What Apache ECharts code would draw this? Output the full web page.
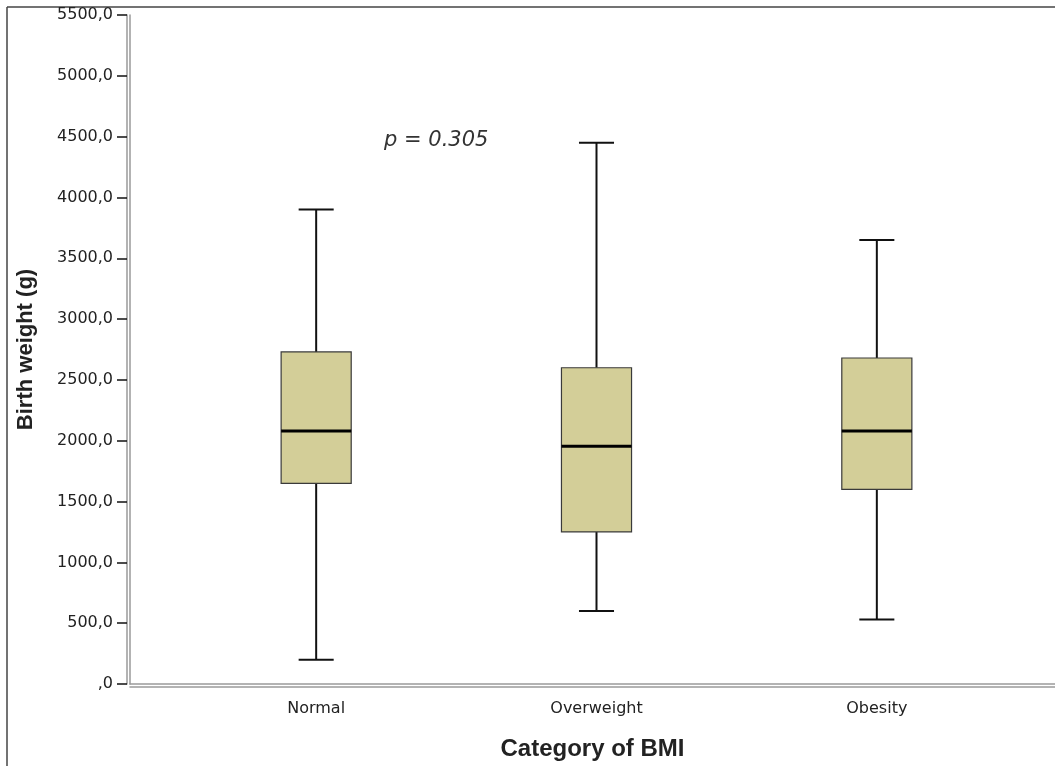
<!DOCTYPE html>
<html>
<head>
<meta charset="utf-8">
<title>Birth weight by BMI category</title>
<script src="https://cdn.jsdelivr.net/npm/echarts@6/dist/echarts.min.js"></script>
<style>
  html, body { margin: 0; padding: 0; background: #fff; }
  #main { width: 1055px; height: 766px; }
</style>
</head>
<body>
<div id="main"></div>
<script>
"use strict";

// data
const categories = ['Normal', 'Overweight', 'Obesity'];
// [min, Q1, median, Q3, max]
const boxNormal = [200, 1650, 2080, 2730, 3900];
const boxOverweight = [600, 1250, 1955, 2600, 4450];
const boxObesity = [530, 1600, 2080, 2680, 3650];
const yTicks = { min: 0, max: 5500, interval: 500 };
const pText = 'p = 0.305';

const boxes = [boxNormal, boxOverweight, boxObesity];
const seriesData = boxes.map(function (b, i) { return [i].concat(b); });

const chart = echarts.init(document.getElementById('main'), null, { renderer: 'canvas' });

const axisGrey = { color: '#9a9a9a', width: 1.5 };
const tickFont = { color: '#222', fontSize: 16, fontFamily: 'DejaVu Sans' };

function renderBox(params, api) {
    const x = api.value(0);
    const lo = api.coord([x, api.value(1)]);
    const q1 = api.coord([x, api.value(2)]);
    const med = api.coord([x, api.value(3)]);
    const q3 = api.coord([x, api.value(4)]);
    const hi = api.coord([x, api.value(5)]);
    const band = api.size([1, 0])[0];
    const bw = band * 0.25;
    const cw = bw / 2;
    const cx = q1[0];
    const stem = { stroke: '#111', lineWidth: 2 };
    return {
        type: 'group',
        children: [
            { type: 'line', shape: { x1: cx, y1: hi[1], x2: cx, y2: q3[1] }, style: stem },
            { type: 'line', shape: { x1: cx, y1: q1[1], x2: cx, y2: lo[1] }, style: stem },
            { type: 'line', shape: { x1: cx - cw / 2, y1: hi[1], x2: cx + cw / 2, y2: hi[1] }, style: stem },
            { type: 'line', shape: { x1: cx - cw / 2, y1: lo[1], x2: cx + cw / 2, y2: lo[1] }, style: stem },
            {
                type: 'rect',
                shape: { x: cx - bw / 2, y: q3[1], width: bw, height: q1[1] - q3[1] },
                style: { fill: '#d3ce98', stroke: '#3a3a3a', lineWidth: 1.2 }
            },
            { type: 'line', shape: { x1: cx - bw / 2, y1: med[1], x2: cx + bw / 2, y2: med[1] }, style: { stroke: '#000', lineWidth: 3 } }
        ]
    };
}

const option = {
    animation: false,
    backgroundColor: '#fff',
    grid: [
        { left: 130, right: 0, top: 15, bottom: 82, outerBoundsMode: 'none' },
        { left: 176, right: 38, top: 15, bottom: 82, outerBoundsMode: 'none' }
    ],
    xAxis: [
        {
            gridIndex: 0, type: 'value', position: 'bottom', min: 0, max: 1,
            axisLine: { show: true, onZero: false, lineStyle: axisGrey },
            axisTick: { show: false }, axisLabel: { show: false }, splitLine: { show: false },
            name: 'Category of BMI', nameLocation: 'middle', nameGap: 53, nameMoveOverlap: false,
            nameTextStyle: { fontSize: 24, fontWeight: 'bold', color: '#222', fontFamily: 'Liberation Sans' }
        },
        {
            gridIndex: 0, type: 'value', position: 'bottom', min: 0, max: 1, offset: 3,
            axisLine: { show: true, onZero: false, lineStyle: axisGrey },
            axisTick: { show: false }, axisLabel: { show: false }, splitLine: { show: false }
        },
        {
            gridIndex: 1, type: 'category', position: 'bottom', data: categories, boundaryGap: true,
            axisLine: { show: false }, axisTick: { show: false },
            axisLabel: Object.assign({ margin: 17 }, tickFont)
        }
    ],
    yAxis: [
        {
            gridIndex: 0, type: 'value', position: 'left', min: yTicks.min, max: yTicks.max, interval: yTicks.interval,
            axisLine: { show: true, onZero: false, lineStyle: axisGrey },
            axisTick: { show: false }, axisLabel: { show: false }, splitLine: { show: false }
        },
        {
            gridIndex: 0, type: 'value', position: 'left', min: yTicks.min, max: yTicks.max, interval: yTicks.interval, offset: 3,
            axisLine: { show: true, onZero: false, lineStyle: axisGrey },
            axisTick: { show: true, length: 10, lineStyle: { color: '#111', width: 1.5 } },
            axisLabel: Object.assign({
                margin: 14,
                formatter: function (v) { return v === 0 ? ',0' : v + ',0'; }
            }, tickFont),
            splitLine: { show: false },
            name: 'Birth weight (g)', nameLocation: 'middle', nameGap: 90, nameMoveOverlap: false,
            nameTextStyle: { fontSize: 22, fontWeight: 'bold', color: '#222', fontFamily: 'Liberation Sans' }
        },
        {
            gridIndex: 1, type: 'value', position: 'left', min: yTicks.min, max: yTicks.max, interval: yTicks.interval,
            show: false
        }
    ],
    graphic: [
        { type: 'line', shape: { x1: 7, y1: 7, x2: 1055, y2: 7 }, style: { stroke: '#444', lineWidth: 1.5 } },
        { type: 'line', shape: { x1: 7, y1: 7, x2: 7, y2: 766 }, style: { stroke: '#444', lineWidth: 1.5 } },
        {
            type: 'text', left: 384, top: 130,
            style: { text: pText, fontSize: 21, fontStyle: 'italic', fontFamily: 'DejaVu Sans', fill: '#333' }
        }
    ],
    series: [
        {
            type: 'custom',
            xAxisIndex: 2,
            yAxisIndex: 2,
            renderItem: renderBox,
            encode: { x: 0, y: [1, 2, 3, 4, 5] },
            data: seriesData
        }
    ]
};

chart.setOption(option);
</script>
</body>
</html>
